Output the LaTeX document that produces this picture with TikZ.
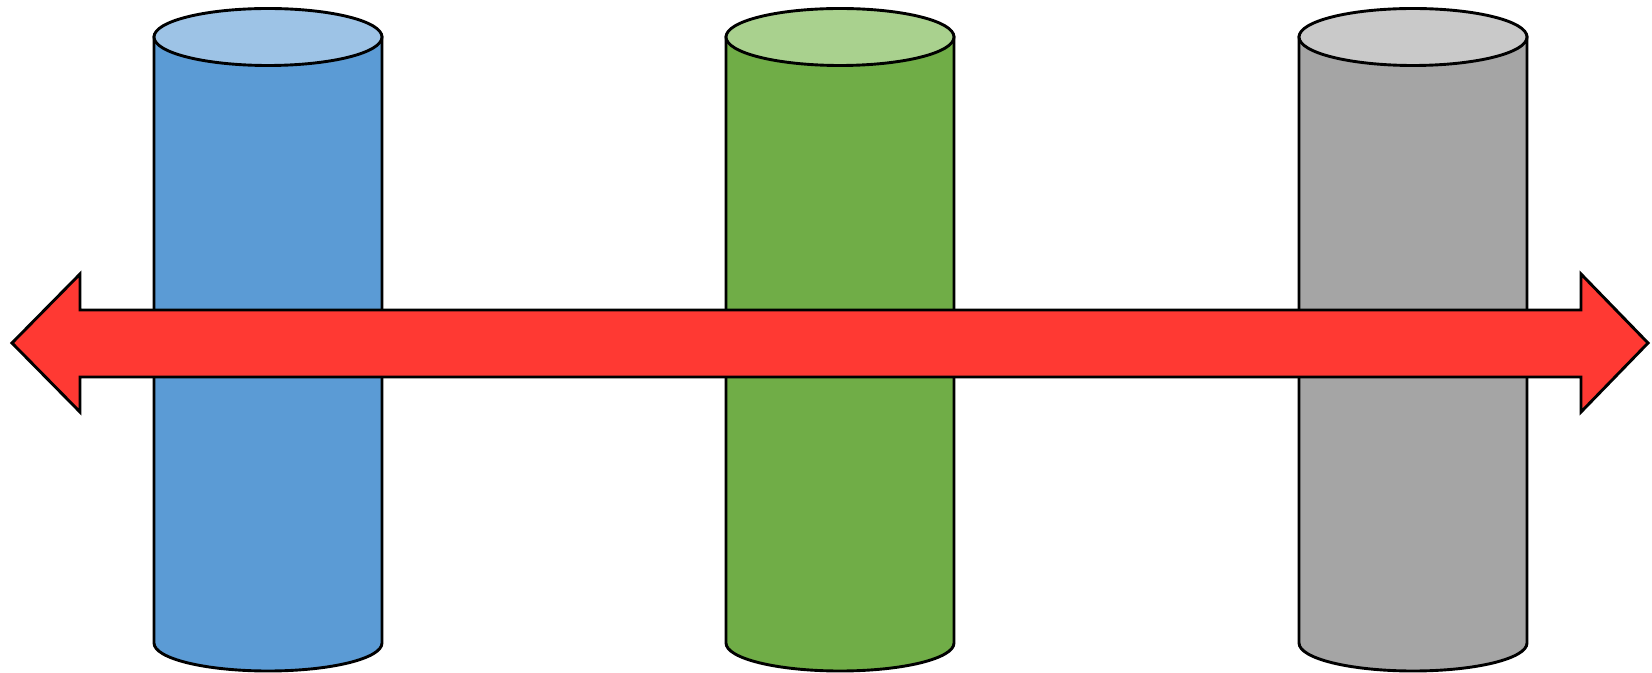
\documentclass[tikz,border=0pt]{standalone}
\usepackage{tikz}
\usetikzlibrary{positioning,calc}
\usepackage{xcolor}
\definecolor{blueBody}{HTML}{5B9BD5}
\definecolor{blueLid}{HTML}{9DC3E6}
\definecolor{greenBody}{HTML}{70AD47}
\definecolor{greenLid}{HTML}{A9D18E}
\definecolor{grayBody}{HTML}{A5A5A5}
\definecolor{grayLid}{HTML}{C9C9C9}
\definecolor{arrowRed}{HTML}{FF3933}
\tikzset{
  outline/.style={draw=black, line width=1.45pt, line join=miter},
  drum/.style={outline},
  lid/.style={outline},
  bigarrow/.style={outline, fill=arrowRed}
}

\begin{document}
\begin{tikzpicture}[x=0.5pt,y=-0.5pt]
\useasboundingbox (0,0) rectangle (1652,673);
\foreach \cx/\bodyc/\lidc in {268/blueBody/blueLid, 840/greenBody/greenLid, 1413/grayBody/grayLid}{
  \draw[drum, fill=\bodyc] (\cx-114,37) -- (\cx-114,643)
    arc[start angle=180, end angle=0, x radius=114, y radius=28] -- (\cx+114,37) -- cycle;
  \draw[lid, fill=\lidc] (\cx,37) ellipse[x radius=114, y radius=28.5];
}
\coordinate (tipL) at (12,343);
\coordinate (tipR) at (1648,343);
\draw[bigarrow] (tipL) -- (80,274) -- (80,310) -- (1581,310) -- (1581,274) -- (tipR)
  -- (1581,412) -- (1581,377) -- (80,377) -- (80,412) -- cycle;
\end{tikzpicture}
\end{document}
